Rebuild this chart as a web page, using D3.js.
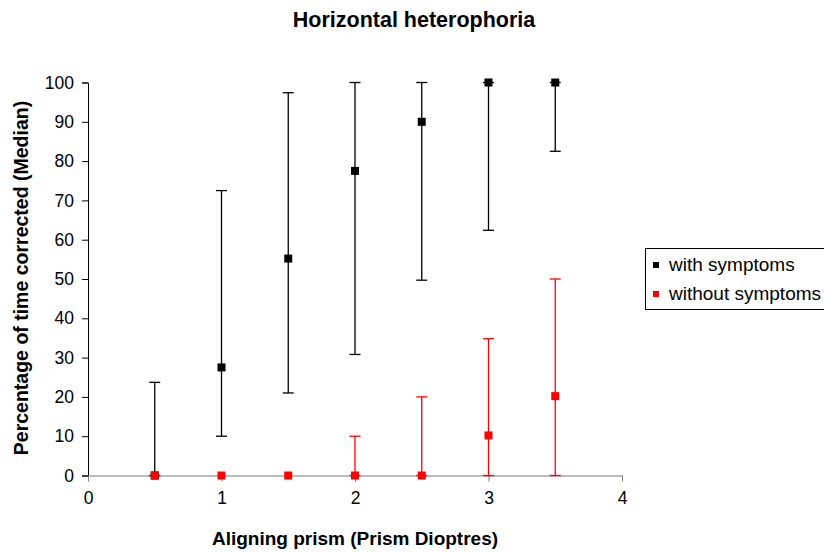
<!DOCTYPE html>
<html>
<head>
<meta charset="utf-8">
<script src="https://cdn.jsdelivr.net/npm/d3@7"></script>
<style>
  body { margin: 0; background: #fff; }
  text { font-family: "Liberation Sans", Arial, sans-serif; }
</style>
</head>
<body>
<svg width="824" height="552"></svg>
<script>
const w = 824;
const h = 552;

// prism values (x)
const prism = [0.5, 1, 1.5, 2, 2.5, 3, 3.5];

// with symptoms: median, lower, upper
const withMedian = [0, 27.5, 55.2, 77.5, 90, 100, 100];
const withLow = [0, 10, 21, 30.8, 49.7, 62.4, 82.5];
const withHigh = [23.7, 72.5, 97.4, 100, 100, 100, 100];

// without symptoms
const withoutMedian = [0, 0, 0, 0, 0, 10.2, 20.2];
const withoutLow = [0, 0, 0, 0, 0, 0, 0];
const withoutHigh = [0, 0, 0, 10, 20, 34.8, 50];

const xTicks = [0, 1, 2, 3, 4];
const yTicks = [0, 10, 20, 30, 40, 50, 60, 70, 80, 90, 100];

const seriesNames = ['with symptoms', 'without symptoms'];
const seriesColors = ['#000000', '#ff0000'];

const series = [
  { name: seriesNames[0], color: seriesColors[0],
    pts: prism.map((x, i) => ({ x, m: withMedian[i], lo: withLow[i], hi: withHigh[i] })) },
  { name: seriesNames[1], color: seriesColors[1],
    pts: prism.map((x, i) => ({ x, m: withoutMedian[i], lo: withoutLow[i], hi: withoutHigh[i] })) }
];

const svg = d3.select('svg');

const xScale = d3.scaleLinear().domain([0, 4]).range([88, 622]);
const yScale = d3.scaleLinear().domain([0, 100]).range([475.5, 82.5]);

// title
svg.append('text')
  .attr('x', 414)
  .attr('y', 27)
  .attr('text-anchor', 'middle')
  .style('font-size', '21.5px')
  .style('font-weight', 'bold')
  .text('Horizontal heterophoria');

// y axis
const yAxis = svg.append('g')
  .attr('transform', 'translate(88,0)')
  .call(d3.axisLeft(yScale).tickValues(yTicks).tickSize(6).tickPadding(8));
yAxis.selectAll('text').style('font-size', '17.5px').attr('fill', '#000');
yAxis.selectAll('line,path').attr('stroke', '#000');

// x axis
const xAxis = svg.append('g')
  .attr('transform', 'translate(0,475.5)')
  .call(d3.axisBottom(xScale).tickValues(xTicks).tickFormat(d3.format('d'))
    .tickSize(6).tickSizeOuter(0).tickPadding(10));
xAxis.selectAll('text').style('font-size', '17.5px').attr('fill', '#000');
xAxis.selectAll('line,path').attr('stroke', '#777');

// axis titles
svg.append('text')
  .attr('x', 355)
  .attr('y', 545)
  .attr('text-anchor', 'middle')
  .style('font-size', '19px')
  .style('font-weight', 'bold')
  .text('Aligning prism (Prism Dioptres)');

svg.append('text')
  .attr('transform', 'translate(28,278) rotate(-90)')
  .attr('text-anchor', 'middle')
  .style('font-size', '19.5px')
  .style('font-weight', 'bold')
  .text('Percentage of time corrected (Median)');

// error bars and markers
const cap = 5.5;
series.forEach(s => {
  const g = svg.append('g');
  const bars = s.pts.filter(d => d.hi > d.lo);
  g.selectAll('line.stem')
    .data(bars)
    .enter()
    .append('line')
    .attr('x1', d => xScale(d.x))
    .attr('x2', d => xScale(d.x))
    .attr('y1', d => yScale(d.lo))
    .attr('y2', d => yScale(d.hi))
    .attr('stroke', s.color)
    .attr('stroke-width', 1.3);
  ['lo', 'hi'].forEach(k => {
    g.selectAll('line.cap-' + k)
      .data(bars)
      .enter()
      .append('line')
      .attr('x1', d => xScale(d.x) - cap)
      .attr('x2', d => xScale(d.x) + cap)
      .attr('y1', d => yScale(d[k]))
      .attr('y2', d => yScale(d[k]))
      .attr('stroke', s.color)
      .attr('stroke-width', 1.3);
  });
  g.selectAll('rect')
    .data(s.pts)
    .enter()
    .append('rect')
    .attr('x', d => xScale(d.x) - 4)
    .attr('y', d => yScale(d.m) - 4)
    .attr('width', 8)
    .attr('height', 8)
    .attr('fill', s.color);
});

// legend
const legend = svg.append('g').attr('transform', 'translate(645,248)');
legend.append('rect')
  .attr('x', 0.5)
  .attr('y', 0.5)
  .attr('width', 200)
  .attr('height', 61)
  .attr('fill', '#fff')
  .attr('stroke', '#000');
series.forEach((s, i) => {
  legend.append('rect')
    .attr('x', 8)
    .attr('y', 14 + i * 29)
    .attr('width', 6)
    .attr('height', 6)
    .attr('fill', s.color);
  legend.append('text')
    .attr('x', 24)
    .attr('y', 23 + i * 29)
    .style('font-size', '19px')
    .text(s.name);
});
</script>
</body>
</html>
